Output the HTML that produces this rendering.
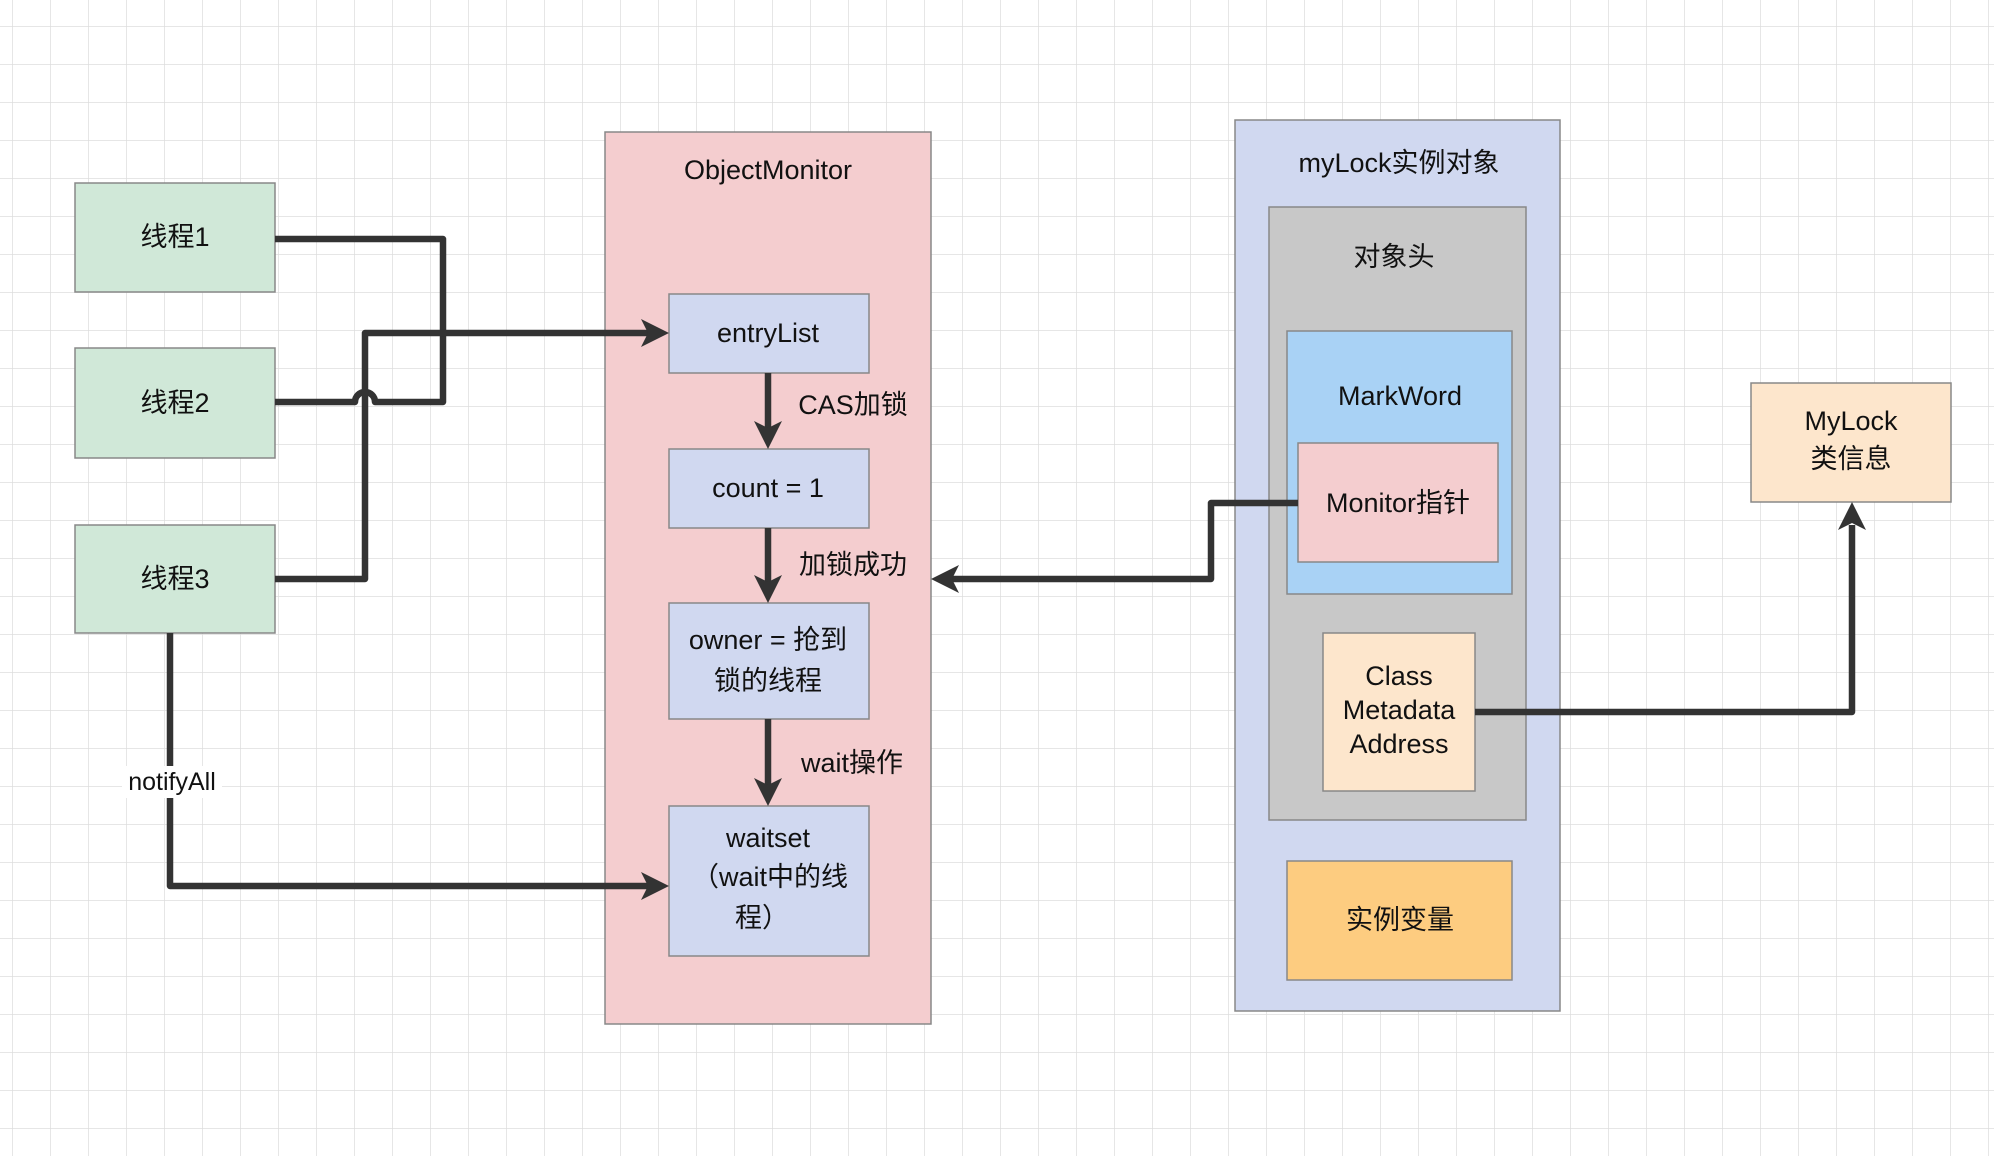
<!DOCTYPE html>
<html><head><meta charset="utf-8"><style>
html,body{margin:0;padding:0;background:#fff;}
svg{display:block;}
text{font-family:"Liberation Sans","Noto Sans CJK SC",sans-serif;font-size:27px;fill:#111;text-anchor:middle;dominant-baseline:central;}
</style></head><body>
<svg width="1994" height="1156" viewBox="0 0 1994 1156" xmlns="http://www.w3.org/2000/svg">
<defs>
<pattern id="g" x="12" y="26" width="38" height="38" patternUnits="userSpaceOnUse">
<path d="M0 0H38M0 0V38" stroke="#dddddd" stroke-width="1.5" fill="none"/>
</pattern>
</defs>
<rect width="1994" height="1156" fill="#fff"/>
<rect width="1994" height="1156" fill="url(#g)"/>

<!-- threads -->
<g fill="#d0e8d8" stroke="#888" stroke-width="1.5">
<rect x="75" y="183" width="200" height="109"/>
<rect x="75" y="348" width="200" height="110"/>
<rect x="75" y="525" width="200" height="108"/>
</g>
<text x="175" y="237">线程1</text>
<text x="175" y="403">线程2</text>
<text x="175" y="579">线程3</text>

<!-- ObjectMonitor -->
<rect x="605" y="132" width="326" height="892" fill="#f4cdcf" stroke="#888" stroke-width="1.5"/>
<text x="768" y="170">ObjectMonitor</text>
<g fill="#d0d8f0" stroke="#888" stroke-width="1.5">
<rect x="669" y="294" width="200" height="79"/>
<rect x="669" y="449" width="200" height="79"/>
<rect x="669" y="603" width="200" height="116"/>
<rect x="669" y="806" width="200" height="150"/>
</g>
<text x="768" y="333">entryList</text>
<text x="768" y="488">count = 1</text>
<text x="768" y="640">owner = 抢到</text>
<text x="768" y="681">锁的线程</text>
<text x="768" y="838">waitset</text>
<text x="770" y="877">（wait中的线</text>
<text x="762" y="918">程）</text>
<text x="853" y="405">CAS加锁</text>
<text x="853" y="565">加锁成功</text>
<text x="852" y="763">wait操作</text>

<!-- myLock -->
<rect x="1235" y="120" width="325" height="891" fill="#d0d8f0" stroke="#888" stroke-width="1.5"/>
<text x="1399" y="163">myLock实例对象</text>
<rect x="1269" y="207" width="257" height="613" fill="#c8c8c8" stroke="#888" stroke-width="1.5"/>
<text x="1394" y="257">对象头</text>
<rect x="1287" y="331" width="225" height="263" fill="#a9d2f5" stroke="#888" stroke-width="1.5"/>
<text x="1400" y="396">MarkWord</text>
<rect x="1298" y="443" width="200" height="119" fill="#f4cdcf" stroke="#888" stroke-width="1.5"/>
<text x="1398" y="503">Monitor指针</text>
<rect x="1323" y="633" width="152" height="158" fill="#fde6cc" stroke="#888" stroke-width="1.5"/>
<text x="1399" y="676">Class</text>
<text x="1399" y="710">Metadata</text>
<text x="1399" y="744">Address</text>
<rect x="1287" y="861" width="225" height="119" fill="#fdcc80" stroke="#888" stroke-width="1.5"/>
<text x="1400" y="920">实例变量</text>
<rect x="1751" y="383" width="200" height="119" fill="#fde6cc" stroke="#888" stroke-width="1.5"/>
<text x="1851" y="421">MyLock</text>
<text x="1851" y="459">类信息</text>

<!-- connectors -->
<g fill="none" stroke="#333" stroke-width="6.5" stroke-linejoin="round">
<path d="M275 239H443V402H375 A10 10 0 0 0 355 402H275"/>
<path d="M275 579H365V333H648"/>
<path d="M170 633V886H648"/>
<path d="M768 373V428"/>
<path d="M768 528V582"/>
<path d="M768 719V785"/>
<path d="M1298 503H1211V579H952"/>
<path d="M1475 712H1852V525"/>
</g>
<rect x="122" y="766" width="100" height="32" fill="#fff"/>
<text x="172" y="782" style="font-size:25px">notifyAll</text>
<g fill="#333">
<polygon points="669,333 641,319 648,333 641,347"/>
<polygon points="669,886 641,872 648,886 641,900"/>
<polygon points="768,449 754,421 768,428 782,421"/>
<polygon points="768,603 754,575 768,582 782,575"/>
<polygon points="768,806 754,778 768,785 782,778"/>
<polygon points="931,579 959,565 952,579 959,593"/>
<polygon points="1852,502 1838,530 1852,523 1866,530"/>
</g>
</svg>
</body></html>
